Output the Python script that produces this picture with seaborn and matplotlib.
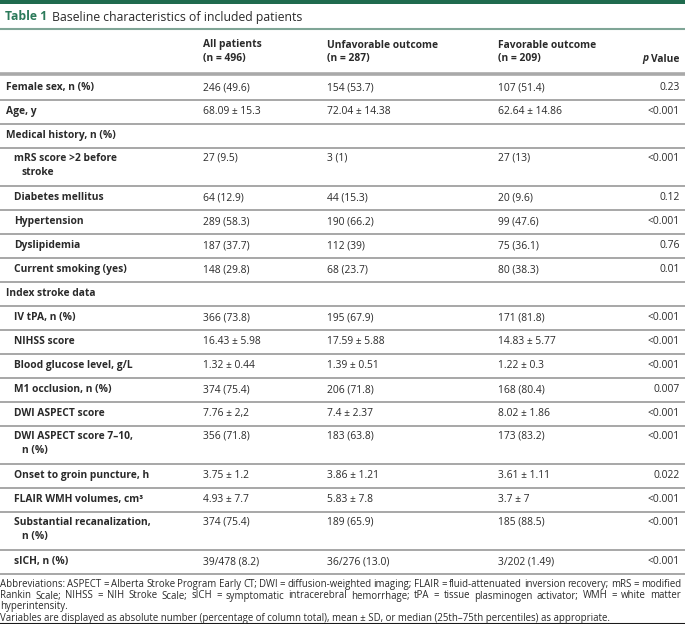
import matplotlib
matplotlib.use("Agg")
import matplotlib.pyplot as plt
import seaborn as sns

sns.set_theme(style="white")
plt.rcParams['font.family'] = ['Open Sans', 'DejaVu Sans']

title_num = "Table 1"
title_text = "Baseline characteristics of included patients"
col_heads = ["All patients", "Unfavorable outcome", "Favorable outcome"]
col_ns = ["(n = 496)", "(n = 287)", "(n = 209)"]

row_labels = [
    "Female sex, n (%)", "Age, y", "Medical history, n (%)",
    "mRS score >2 before\nstroke", "Diabetes mellitus", "Hypertension",
    "Dyslipidemia", "Current smoking (yes)", "Index stroke data",
    "IV tPA, n (%)", "NIHSS score", "Blood glucose level, g/L",
    "M1 occlusion, n (%)", "DWI ASPECT score", "DWI ASPECT score 7\u201310,\nn (%)",
    "Onset to groin puncture, h", "FLAIR WMH volumes, cm\u00b3",
    "Substantial recanalization,\nn (%)", "sICH, n (%)",
]
row_indent = [0, 0, 0, 1, 1, 1, 1, 1, 0, 1, 1, 1, 1, 1, 1, 1, 1, 1, 1]
all_patients = [
    "246 (49.6)", "68.09 \u00b1 15.3", "", "27 (9.5)", "64 (12.9)", "289 (58.3)",
    "187 (37.7)", "148 (29.8)", "", "366 (73.8)", "16.43 \u00b1 5.98", "1.32 \u00b1 0.44",
    "374 (75.4)", "7.76 \u00b1 2,2", "356 (71.8)", "3.75 \u00b1 1.2", "4.93 \u00b1 7.7",
    "374 (75.4)", "39/478 (8.2)",
]
unfavorable = [
    "154 (53.7)", "72.04 \u00b1 14.38", "", "3 (1)", "44 (15.3)", "190 (66.2)",
    "112 (39)", "68 (23.7)", "", "195 (67.9)", "17.59 \u00b1 5.88", "1.39 \u00b1 0.51",
    "206 (71.8)", "7.4 \u00b1 2.37", "183 (63.8)", "3.86 \u00b1 1.21", "5.83 \u00b1 7.8",
    "189 (65.9)", "36/276 (13.0)",
]
favorable = [
    "107 (51.4)", "62.64 \u00b1 14.86", "", "27 (13)", "20 (9.6)", "99 (47.6)",
    "75 (36.1)", "80 (38.3)", "", "171 (81.8)", "14.83 \u00b1 5.77", "1.22 \u00b1 0.3",
    "168 (80.4)", "8.02 \u00b1 1.86", "173 (83.2)", "3.61 \u00b1 1.11", "3.7 \u00b1 7",
    "185 (88.5)", "3/202 (1.49)",
]
p_values = [
    "0.23", "<0.001", "", "<0.001", "0.12", "<0.001", "0.76", "0.01", "",
    "<0.001", "<0.001", "<0.001", "0.007", "<0.001", "<0.001", "0.022", "<0.001",
    "<0.001", "<0.001",
]
footnote_lines = [
    "Abbreviations: ASPECT = Alberta Stroke Program Early CT; DWI = diffusion-weighted imaging; FLAIR = fluid-attenuated inversion recovery; mRS = modified",
    "Rankin Scale; NIHSS = NIH Stroke Scale; sICH = symptomatic intracerebral hemorrhage; tPA = tissue plasminogen activator; WMH = white matter",
    "hyperintensity.",
    "Variables are displayed as absolute number (percentage of column total), mean \u00b1 SD, or median (25th\u201375th percentiles) as appropriate.",
]

W, H = 685, 624
TXT = "#2a2a2a"
GREEN = "#1f6b4e"
FS = 7.4
FS_NOTE = 6.9

fig = plt.figure(figsize=(W / 100, H / 100), dpi=100)
ax = fig.add_axes([0, 0, 1, 1])
ax.set_xlim(0, W)
ax.set_ylim(H, 0)
ax.axis("off")
r = fig.canvas.get_renderer()


def width(t):
    return t.get_window_extent(r).width


def justify(text, x0, x1, y, **kw):
    words = text.split(" ")
    arts = [ax.text(0, y, w, va="center", **kw) for w in words]
    ws = [width(a) for a in arts]
    gap = (x1 - x0 - sum(ws)) / (len(words) - 1)
    x = x0
    for a, w in zip(arts, ws):
        a.set_x(x)
        x += w + gap


# top bar and title
ax.axhspan(0, 3.5, color=GREEN, lw=0)
t1 = ax.text(5, 17, title_num, color="#2b7a5a", fontsize=8.7, fontweight="bold", va="center")
ax.text(5 + width(t1) + 5, 17, title_text, color=TXT, fontsize=8.8, va="center")
ax.plot([0, W], [28.5, 28.5], color="#7fa596", lw=1.5)

# column headers
col_x = [203, 327, 498]
for x, h, n in zip(col_x, col_heads, col_ns):
    ax.text(x, 45, h, fontsize=FS, fontweight="bold", color=TXT, va="center")
    ax.text(x, 59, n, fontsize=FS, fontweight="bold", color=TXT, va="center")
tv = ax.text(680, 59, "Value", fontsize=FS, fontweight="bold", color=TXT, va="center", ha="right")
ax.text(680 - width(tv) - 3, 59, "p", fontsize=FS, fontweight="bold", style="italic",
        color=TXT, va="center", ha="right")
ax.plot([0, W], [74, 74], color="#a9a9a9", lw=2.6)

# body rows
top = 75.5
for lab, ind, a, u, f, p in zip(row_labels, row_indent, all_patients, unfavorable, favorable, p_values):
    parts = lab.split("\n")
    h = 24 if len(parts) == 1 else 38
    y = top + 12 if len(parts) == 1 else top + 11
    x0 = 6 + 8 * ind
    for k, part in enumerate(parts):
        ax.text(x0 + (8 if k else 0), y + 14 * k, part, fontsize=FS, fontweight="bold",
                color=TXT, va="center")
    for x, v in zip(col_x, [a, u, f]):
        ax.text(x, y, v, fontsize=FS, color=TXT, va="center")
    ax.text(680, y, p, fontsize=FS, color=TXT, va="center", ha="right")
    top += h
    ax.plot([0, W], [top, top], color="#8f8f8f", lw=1.1)

# footnotes
fy = [584.5, 596, 607, 618.5]
for i, (line, y) in enumerate(zip(footnote_lines, fy)):
    if i < 2:
        justify(line, 0, 681, y, fontsize=FS_NOTE, color=TXT)
    else:
        ax.text(0, y, line, fontsize=FS_NOTE, color=TXT, va="center")
ax.plot([0, W], [623.5, 623.5], color="#1a1a1a", lw=1.5)

fig.savefig("out.png", dpi=100)
